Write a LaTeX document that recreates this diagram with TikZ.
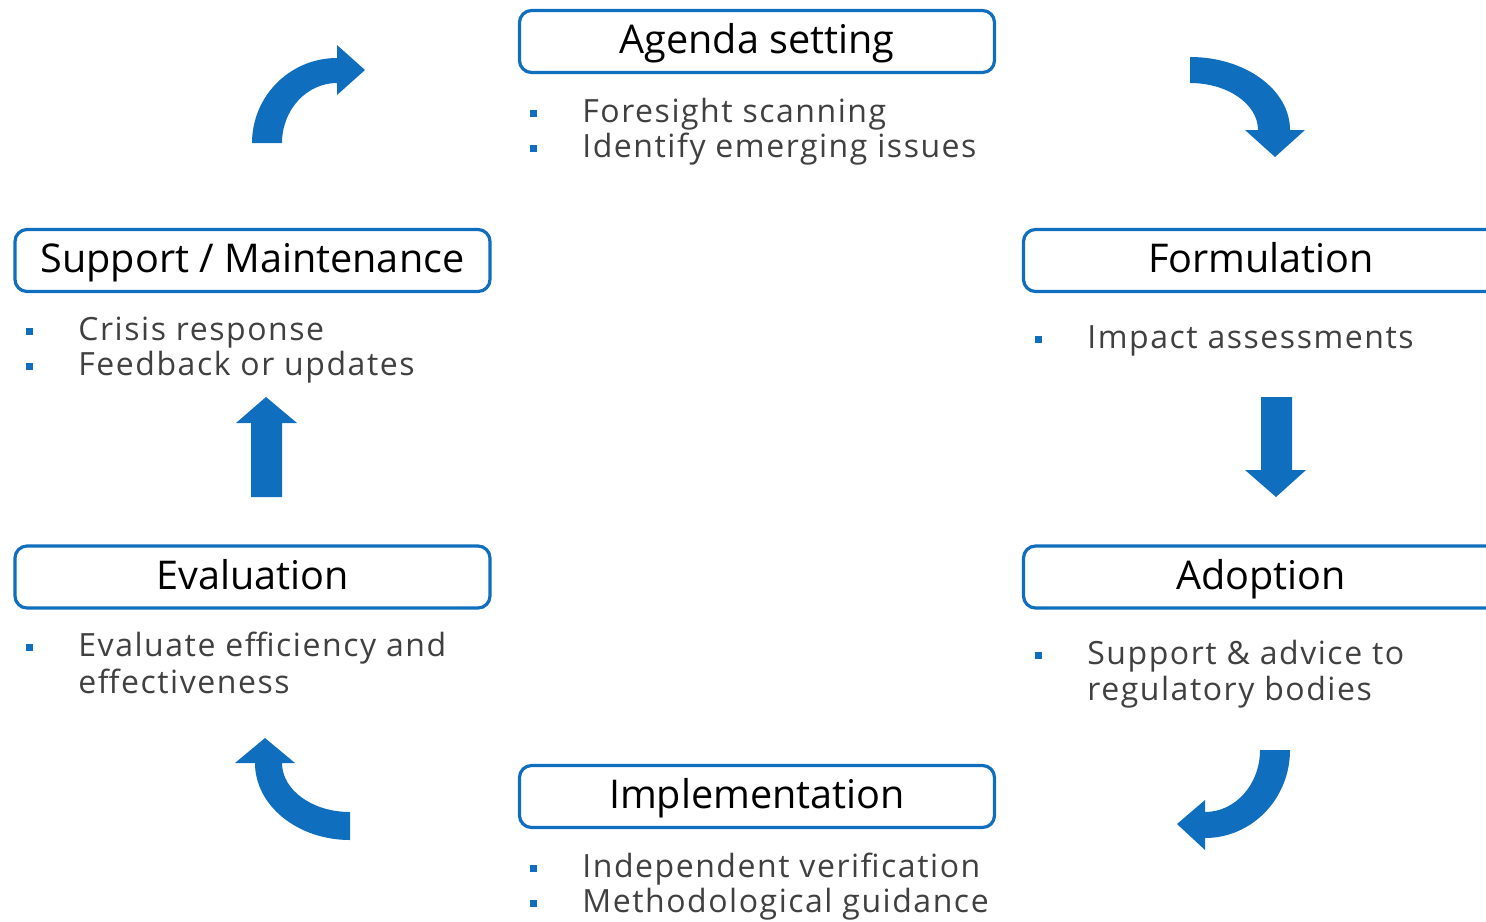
\documentclass[tikz,border=0pt]{standalone}
\usepackage{fontspec}
\setmainfont{Open Sans}
\newfontfamily\itemfont[LetterSpace=4.8]{Open Sans}
\definecolor{cycleblue}{RGB}{16,110,190}
\definecolor{bodygray}{RGB}{64,64,64}

\begin{document}
\begin{tikzpicture}[x=0.5pt,y=-0.5pt,
  stage/.style={draw=cycleblue, line width=1.6pt, rounded corners=6pt,
    fill=white, minimum width=237.5pt, minimum height=31pt, inner sep=0pt,
    font=\fontsize{19.8}{24}\selectfont, text=black,
    text height=14.3pt, text depth=2.3pt},
  item/.style={anchor=base west, inner sep=0pt,
    font=\itemfont\fontsize{16}{18}\selectfont, text=bodygray},
  blockarrow/.style={fill=cycleblue}]
\useasboundingbox (0,0) rectangle (1486,921);
\clip (0,0) rectangle (1486,921);

% stage boxes
\node[stage] (agenda)         at (757,41.5)   {Agenda setting};
\node[stage] (support)        at (252.5,260.5) {Support / Maintenance};
\node[stage] (formulation)    at (1261,260.5) {Formulation};
\node[stage] (evaluation)     at (252.5,577)  {Evaluation};
\node[stage] (adoption)       at (1261,577)   {Adoption};
\node[stage] (implementation) at (757,796.5)  {Implementation};

% bullet texts
\node[item] (ag1) at (582,122) {Foresight scanning};
\node[item] (ag2) at (582,157) {Identify emerging issues};
\node[item] (su1) at (78,340) {Crisis response};
\node[item] (su2) at (78,375) {Feedback or updates};
\node[item] (fo1) at (1087,348) {Impact assessments};
\node[item] (ev1) at (78,656) {Evaluate efficiency and};
\node[item] (ev2) at (78,693) {effectiveness};
\node[item] (ad1) at (1087,664) {Support \& advice to};
\node[item] (ad2) at (1087,700) {regulatory bodies};
\node[item] (im1) at (582,877) {Independent verification};
\node[item] (im2) at (582,912) {Methodological guidance};

% square bullets
\foreach \n in {ag1,ag2,su1,su2,fo1,ev1,ad1,im1,im2}
  \fill[cycleblue] (\n.base west) ++(-52,-12.5) rectangle ++(7,7);

% straight arrows
\fill[blockarrow] (251,497) -- (251,423) -- (236,423) -- (266,397)
  -- (297,423) -- (282,423) -- (282,497) -- cycle;
\fill[blockarrow] (1261,397) -- (1292,397) -- (1292,470) -- (1306,470)
  -- (1276,497) -- (1245,470) -- (1261,470) -- cycle;

% curved arrows
\fill[blockarrow] (252,143) arc[start angle=180,end angle=270,x radius=85,y radius=85]
  -- (337,45) -- (365,70) -- (337,95) -- (337,83)
  arc[start angle=270,end angle=180,x radius=55,y radius=60] -- cycle;
\fill[blockarrow] (1190,57) arc[start angle=270,end angle=360,x radius=100,y radius=73]
  -- (1305,130) -- (1275,157) -- (1245,130) -- (1258,130)
  arc[start angle=0,end angle=-90,x radius=68,y radius=47] -- cycle;
\fill[blockarrow] (1290,750) arc[start angle=0,end angle=90,x radius=85,y radius=88]
  -- (1205,850) -- (1177,824) -- (1205,800) -- (1205,812)
  arc[start angle=90,end angle=0,x radius=55,y radius=62] -- cycle;
\fill[blockarrow] (350,840) arc[start angle=90,end angle=180,x radius=95,y radius=77]
  -- (235,763) -- (265,738) -- (295,763) -- (282,763)
  arc[start angle=180,end angle=90,x radius=68,y radius=49] -- cycle;
\end{tikzpicture}
\end{document}
